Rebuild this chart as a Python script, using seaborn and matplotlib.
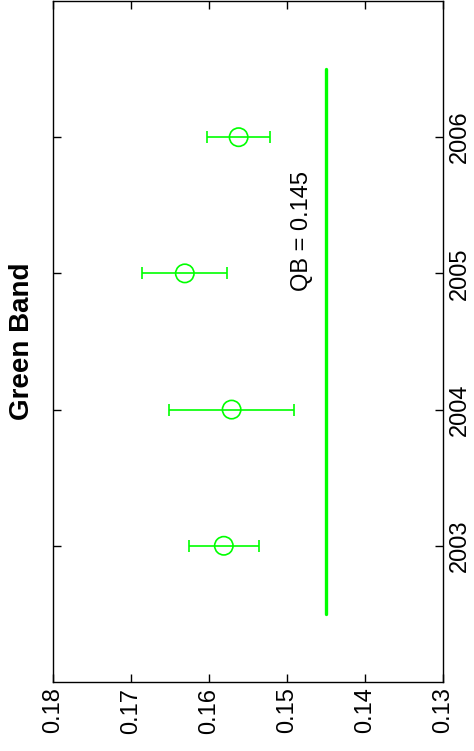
import matplotlib
matplotlib.use('Agg')
import matplotlib.pyplot as plt
import seaborn as sns
import pandas as pd

# Green band values per year, with half-width of the error bars
years = [2003, 2004, 2005, 2006]
values = [0.1581, 0.1571, 0.1631, 0.1562]
errors = [0.0045, 0.0080, 0.00545, 0.0040]

# quality benchmark line
qb_value = 0.145
qb_span = [2002.5, 2006.5]

value_ticks = [0.13, 0.14, 0.15, 0.16, 0.17, 0.18]
year_ticks = [2003, 2004, 2005, 2006]

sns.set_style('ticks')
plt.rcParams['font.family'] = ['Liberation Sans', 'DejaVu Sans']
plt.rcParams['text.color'] = 'black'

df = pd.DataFrame({'year': years, 'value': values})
qb_df = pd.DataFrame({'year': qb_span, 'value': [qb_value, qb_value]})

fig = plt.figure(figsize=(4.74, 7.51), dpi=100)
ax = fig.add_axes([0.1118, 0.0919, 0.8228, 0.9068])

green = '#00ff00'

# the chart is drawn turned on its side: value runs horizontally, year vertically
ax.errorbar(df['value'], df['year'], xerr=errors, fmt='none',
            ecolor=green, elinewidth=1.2, capsize=4.5, capthick=1.2)
sns.scatterplot(data=df, x='value', y='year', ax=ax, marker='o', s=175,
                facecolor='none', edgecolor=green, linewidth=1.2, zorder=3)
sns.lineplot(data=qb_df, x='value', y='year', ax=ax, color=green,
             linewidth=2.4, orient='y', sort=False)

ax.text(0.1481, 2005.31, 'QB = 0.145', rotation=90, ha='center', va='center',
        fontsize=17, color='black')

ax.set_xlim(0.18, 0.13)
ax.set_ylim(2002, 2007)
ax.set_xticks(value_ticks)
ax.set_xticklabels([f'{v:.2f}' for v in value_ticks], rotation=90, fontsize=17)
ax.set_yticks(year_ticks)
ax.set_yticklabels([str(y) for y in year_ticks], rotation=90, va='center', fontsize=17)
ax.yaxis.tick_right()
ax.set_xlabel('')
ax.set_ylabel('')
ax.tick_params(direction='in', length=6, width=1, top=True, bottom=True,
               left=True, right=True, labelleft=False, labelright=True,
               colors='black', labelcolor='black', pad=4)
for side in ax.spines.values():
    side.set_visible(True)
    side.set_linewidth(1.0)
    side.set_color('black')

fig.text(22 / 474, 0.5452, 'Green Band', rotation=90, ha='center', va='center',
         fontsize=20, fontweight='bold', color='black')

fig.savefig('out.png', dpi=100)
